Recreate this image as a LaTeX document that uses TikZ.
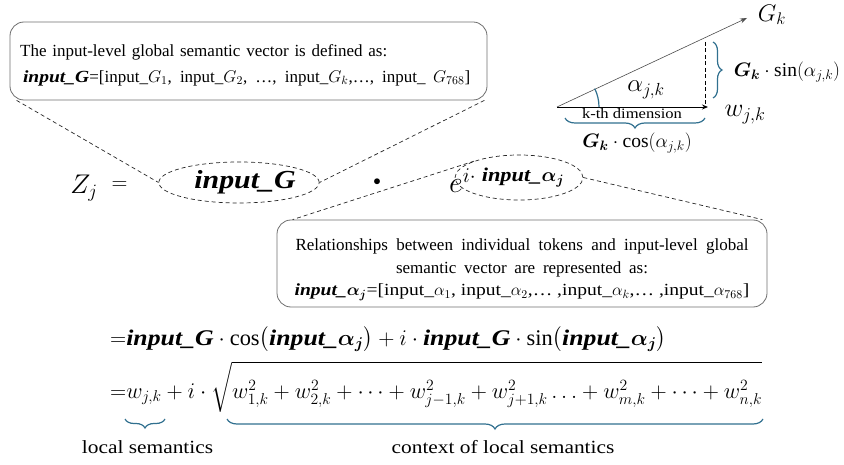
\RequirePackage{fix-cm}
\documentclass[tikz,border=0pt]{standalone}
\usepackage{amsmath}
\usepackage{fontspec}
\setmainfont{Liberation Serif}
\newfontfamily\camfont[FakeStretch=1.15]{Liberation Serif}
\usetikzlibrary{decorations.pathreplacing,arrows.meta,shapes.geometric}
\definecolor{bracecol}{RGB}{49,112,143}
\definecolor{boxgray}{RGB}{110,110,110}
\newcommand{\cambi}[1]{{\camfont\bfseries\itshape #1}}
\newcommand{\fsz}[2]{\fontsize{#1}{#2}\selectfont}
\begin{document}
\begin{tikzpicture}[x=1pt,y=-1pt,
  box/.style={draw=boxgray, rounded corners=14pt, line width=0.8pt, inner sep=0pt},
  dline/.style={draw=black!85, dash pattern=on 4pt off 3pt, line width=0.7pt},
  oval/.style={ellipse, draw=black!85, dash pattern=on 4pt off 3pt, line width=0.7pt, inner sep=0pt},
  brc/.style={decorate, decoration={brace, amplitude=#1}, draw=bracecol, line width=1.2pt},
  brc/.default=9pt,
  brcm/.style={decorate, decoration={brace, mirror, amplitude=#1}, draw=bracecol, line width=1.2pt},
  brcm/.default=9pt,
  lbl/.style={inner sep=0pt},
]
\path[use as bounding box] (0,0) rectangle (844,465);

% top box
\node[box, minimum width=477pt, minimum height=78pt] (b1) at (248.5,61) {};
\node[lbl, anchor=west, align=left, font=\fsz{17}{26}] (t1) at (20,65) {\makebox[367pt][s]{The input-level global semantic vector is defined as:}\\ \makebox[450pt][s]{\,\cambi{input\_G}=[input\_$G_1$, input\_$G_2$, \dots, input\_$G_k$,\dots, input\_ $G_{768}$]}};

% Z_j = input_G . e^{i input_alpha}
\node[lbl, font=\fsz{27}{27}] (z) at (84,188) {$Z_j$};
\node[lbl, font=\fsz{22}{22}] (eq) at (119.5,186) {$=$};
\node[oval, minimum width=152pt, minimum height=41pt] (e1) at (239,182.5) {\fsz{26}{26}\hspace*{12pt}\cambi{input\_G}};
\draw[dline] ([xshift=7pt]b1.south west) -- (e1.west);
\draw[dline] ([xshift=-3pt]b1.south east) -- (e1.east);
\node[lbl, font=\fsz{15}{15}] (dot) at (377,182) {$\bullet$};
\node[lbl, font=\fsz{30}{30}, anchor=base west] (ex) at (449,193) {$e^{i\cdot}$};
\node[oval, minimum width=106pt, minimum height=45pt] (e2) at (519,177.5) {\fsz{19.5}{19.5}\hspace*{8pt}\cambi{input\_$\boldsymbol{\alpha_j}$}};

% second box
\node[box, minimum width=490pt, minimum height=87pt] (b2) at (522,263.5) {};
\node[lbl, align=center, font=\fsz{17}{22.5}] (t2) at (522,270) {\makebox[453pt][s]{Relationships between individual tokens and input-level global}\\ \makebox[252pt][s]{semantic vector are represented as:}\\ {\camfont\cambi{input\_$\boldsymbol{\alpha_j}$}=[input\_$\alpha_1$, input\_$\alpha_2$,\dots\ ,input\_$\alpha_k$,\dots\ ,input\_$\alpha_{768}$]}};
\draw[dline] (e2.160) -- ([xshift=16pt]b2.north west);
\draw[dline] (e2.east) -- ([xshift=-5pt]b2.north east);

% triangle
\coordinate (O) at (557,107);
\coordinate (H) at (708,107);
\coordinate (Gt) at (747,18);
\coordinate (Vt) at (705,42);
\coordinate (Vb) at (705,104);
\draw[black!70, line width=0.6pt, -{Stealth[length=7pt,width=5pt]}] (O) -- (Gt);
\draw[line width=0.9pt, -{Stealth[length=6pt,width=5pt]}] (O) -- (H);
\draw[line width=1pt, dash pattern=on 4pt off 2.5pt] (Vt) -- (Vb);
\draw[bracecol, line width=1.2pt] ([shift={(0:42)}]O) arc[start angle=0, end angle=-26, radius=42];
\node[lbl, font=\fsz{24}{24}] (gk) at (772,15) {$G_k$};
\node[lbl, font=\fsz{25}{25}] (al) at (646,90) {$\alpha_{j,k}$};
\node[lbl, font=\fsz{26}{26}] (w) at (745,115) {$w_{j,k}$};
\node[lbl, font=\camfont\fsz{14.4}{14.4}] (kd) at (632,114) {k-th dimension};
\node[lbl, font=\fsz{19.5}{19.5}] (sn) at (787,72) {$\boldsymbol{G_k}\cdot\sin(\alpha_{j,k})$};
\node[lbl, font=\fsz{19.5}{19.5}] (cs) at (637,143) {$\boldsymbol{G_k}\cdot\cos(\alpha_{j,k})$};
\draw[brc=9pt] (713,42) -- (713,98);
\draw[brcm=10pt] (565,118) -- (705,118);

% equations
\node[lbl, anchor=base west, font=\fsz{22.4}{22.4}] (l1) at (110,345) {${=}\text{\cambi{input\_G}}\cdot\cos\bigl(\text{\cambi{input\_}}\boldsymbol{\alpha_j}\bigr)+i\cdot\text{\cambi{input\_G}}\cdot\sin\bigl(\text{\cambi{input\_}}\boldsymbol{\alpha_j}\bigr)$};
\node[lbl, anchor=base west, font=\fsz{22.4}{22.4}] (l2) at (110,398) {${=}w_{j,k}+i\cdot\sqrt{\rule{0pt}{29pt}w_{1,k}^2+w_{2,k}^2+\cdots+w_{j-1,k}^2+w_{j+1,k}^2\ldots+w_{m,k}^2+\cdots+w_{n,k}^2}$};
\draw[brcm=9pt] (125,419) -- (165,419);
\draw[brcm=10pt] (227,419) -- (763,419);
\node[lbl, font=\camfont\fsz{18.6}{18.6}] (ls) at (147.5,447) {local semantics};
\node[lbl, font=\camfont\fsz{18.6}{18.6}] (cl) at (503,447) {context of local semantics};
\end{tikzpicture}
\end{document}
